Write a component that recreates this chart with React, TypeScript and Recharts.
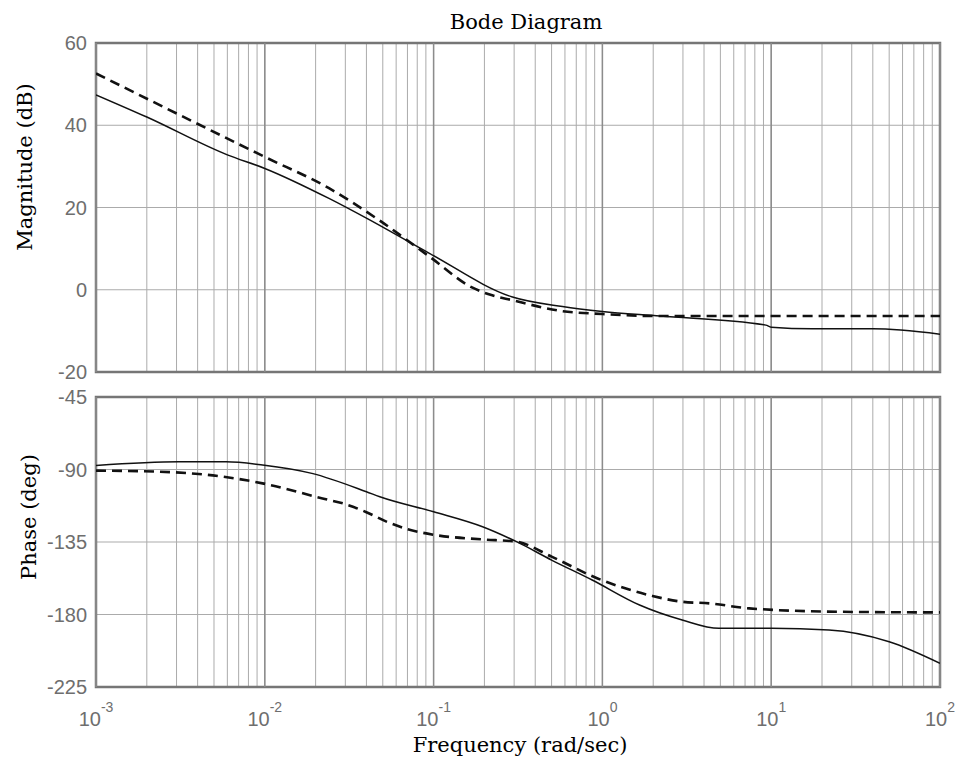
import React from "react";
import {
  CartesianGrid,
  Line,
  LineChart,
  ReferenceArea,
  ReferenceLine,
  XAxis,
  YAxis,
} from "recharts";

// frequency grid (rad/sec)
const decadeTicks = [0.001, 0.01, 0.1, 1, 10, 100];
const decadeExponents = ["-3", "-2", "-1", "0", "1", "2"];
const gridMultipliers = [1, 2, 3, 4, 5, 6, 7, 8, 9];
const magTicks = [-20, 0, 20, 40, 60];
const phaseTicks = [-225, -180, -135, -90, -45];

// magnitude, solid curve
const magSolidFreq = [0.001, 0.002, 0.006, 0.01, 0.024, 0.04, 0.095, 0.29, 0.58, 1, 2.2, 9.3, 10, 17.5, 40, 100];
const magSolidDb = [47.4, 42, 32.8, 29.5, 22.2, 17.4, 8.8, -1.7, -4.1, -5.3, -6.4, -8.6, -9.1, -9.5, -9.5, -10.8];

// magnitude, dashed curve
const magDashFreq = [0.001, 0.01, 0.024, 0.048, 0.095, 0.17, 0.22, 0.29, 0.58, 1, 2.2, 100];
const magDashDb = [52.6, 32.3, 24.7, 16.8, 8.0, 0.5, -1.3, -2.5, -5.2, -5.9, -6.4, -6.4];

// phase, solid curve
const phSolidFreq = [0.001, 0.0031, 0.0059, 0.0097, 0.019, 0.04, 0.048, 0.1, 0.195, 0.31, 0.5, 0.87, 1.66, 2.97, 4.9, 10, 22, 50, 100];
const phSolidDeg = [-87.5, -85.2, -85.2, -87.2, -92.4, -103.8, -106.9, -116.2, -125.5, -134.8, -146.2, -158.6, -174.1, -183.4, -188.6, -188.6, -189.6, -196.9, -210.3];

// phase, dashed curve
const phDashFreq = [0.001, 0.0023, 0.0057, 0.0097, 0.022, 0.03, 0.04, 0.053, 0.07, 0.1, 0.195, 0.31, 0.5, 0.93, 1.98, 2.97, 4.3, 7.4, 25, 100];
const phDashDeg = [-90.7, -91.3, -94.5, -98.6, -108, -111.5, -116.5, -122.5, -127, -130.5, -133.4, -134.8, -144.1, -157.5, -168.5, -172.1, -173.1, -176.2, -178.3, -178.7];

const zip = (f: number[], v: number[]) => f.map((x, i) => ({ f: x, v: v[i] }));

const magSolid = zip(magSolidFreq, magSolidDb);
const magDash = zip(magDashFreq, magDashDb);
const phSolid = zip(phSolidFreq, phSolidDeg);
const phDash = zip(phDashFreq, phDashDeg);

const gridTicks = decadeTicks
  .slice(0, -1)
  .flatMap((d) => gridMultipliers.map((m) => +(d * m).toPrecision(3)))
  .concat([100]);

const SANS = "'Liberation Sans', Arial, sans-serif";
const SERIF = "'DejaVu Serif', serif";
const TICK_COLOR = "#6e6e6e";
const GRID = "#ababab";
const FRAME = "#767676";

const FreqTick = (props: any) => {
  const { x, y, payload } = props;
  const i = decadeTicks.indexOf(payload.value);
  if (i < 0) return <g />;
  return (
    <text x={x} y={y + 39} textAnchor="middle" fill={TICK_COLOR} fontFamily={SANS} fontSize={20}>
      <tspan>10</tspan>
      <tspan dy={-14} fontSize={14}>{decadeExponents[i]}</tspan>
    </text>
  );
};

const EmptyTick = () => <g />;

const ValueTick = (props: any) => {
  const { y, payload } = props;
  return (
    <text x={87} y={y} dy={7} textAnchor="end" fill={TICK_COLOR} fontFamily={SANS} fontSize={20}>
      {payload.value}
    </text>
  );
};

interface PanelProps {
  readonly solid: { f: number; v: number }[];
  readonly dashed: { f: number; v: number }[];
  readonly ticks: number[];
  readonly height: number;
  readonly margin: { top: number; right: number; bottom: number; left: number };
  readonly showFreq: boolean;
}

const Panel = ({ solid, dashed, ticks, height, margin, showFreq }: PanelProps) => {
  const lo = ticks[0];
  const hi = ticks[ticks.length - 1];
  return (
    <LineChart width={965} height={height} margin={margin}>
      <CartesianGrid stroke={GRID} strokeWidth={1} />
      <XAxis
        dataKey="f"
        type="number"
        scale="log"
        domain={[0.001, 100]}
        allowDataOverflow
        ticks={gridTicks}
        interval={0}
        axisLine={false}
        tickLine={false}
        tickSize={0}
        tickMargin={0}
        height={showFreq ? 60 : 0}
        tick={showFreq ? FreqTick : EmptyTick}
      />
      <YAxis
        type="number"
        domain={[lo, hi]}
        ticks={ticks}
        interval={0}
        allowDataOverflow
        width={96}
        axisLine={false}
        tickLine={false}
        tick={ValueTick}
      />
      {decadeTicks.map((d) => (
        <ReferenceLine key={d} x={d} stroke="#8c8c8c" strokeWidth={1.5} />
      ))}
      <ReferenceArea
        x1={0.001}
        x2={100}
        y1={lo}
        y2={hi}
        fill="none"
        fillOpacity={0}
        stroke={FRAME}
        strokeWidth={2.5}
        ifOverflow="visible"
      />
      <Line
        data={dashed}
        dataKey="v"
        type="monotone"
        stroke="#111"
        strokeWidth={2.6}
        strokeDasharray="10 6"
        dot={false}
        isAnimationActive={false}
      />
      <Line
        data={solid}
        dataKey="v"
        type="monotone"
        stroke="#111"
        strokeWidth={1.5}
        dot={false}
        isAnimationActive={false}
      />
    </LineChart>
  );
};

const labelStyle: React.CSSProperties = {
  position: "absolute",
  fontFamily: SERIF,
  fontSize: 21,
  color: "#000",
  whiteSpace: "nowrap",
};

export default function App() {
  return (
    <div style={{ position: "absolute", left: 0, top: 0, width: 965, height: 770, background: "#fff", overflow: "hidden" }}>
      <div style={{ position: "absolute", left: 0, top: 0 }}>
        <Panel
          solid={magSolid}
          dashed={magDash}
          ticks={magTicks}
          height={392}
          margin={{ top: 43, right: 25, bottom: 20, left: 0 }}
          showFreq={false}
        />
      </div>
      <div style={{ position: "absolute", left: 0, top: 380 }}>
        <Panel
          solid={phSolid}
          dashed={phDash}
          ticks={phaseTicks}
          height={390}
          margin={{ top: 17, right: 25, bottom: 23, left: 0 }}
          showFreq
        />
      </div>
      <div style={{ ...labelStyle, left: 526, top: 22, transform: "translate(-50%, -50%)" }}>Bode Diagram</div>
      <div style={{ ...labelStyle, left: 520, top: 745, transform: "translate(-50%, -50%)" }}>Frequency (rad/sec)</div>
      <div style={{ ...labelStyle, left: 25, top: 167, transform: "translate(-50%, -50%) rotate(-90deg)" }}>Magnitude (dB)</div>
      <div style={{ ...labelStyle, left: 29, top: 517, transform: "translate(-50%, -50%) rotate(-90deg)" }}>Phase (deg)</div>
    </div>
  );
}
